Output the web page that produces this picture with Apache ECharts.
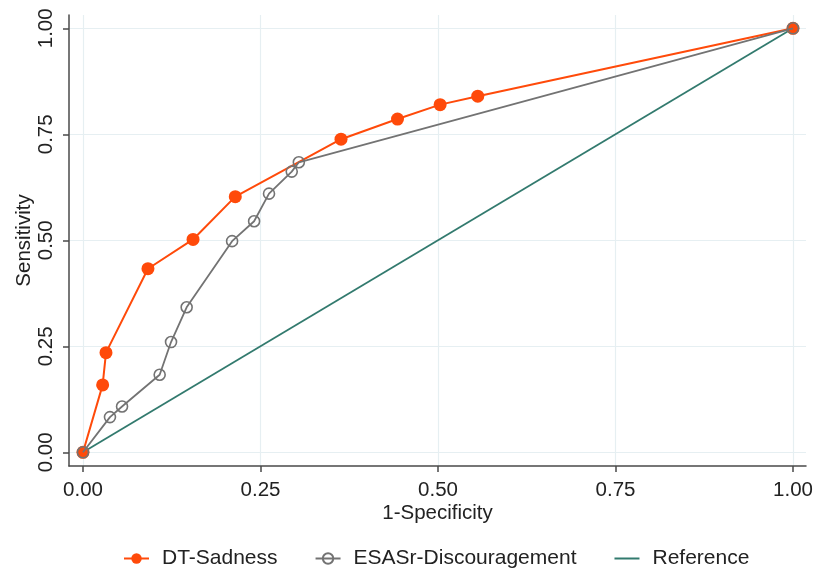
<!DOCTYPE html>
<html>
<head>
<meta charset="utf-8">
<script src="https://cdn.jsdelivr.net/npm/echarts@6/dist/echarts.min.js"></script>
<style>html,body{margin:0;padding:0;background:#fff}#c{width:827px;height:568px}</style>
</head>
<body>
<div id="c"></div>
<script>
// 1-Specificity / Sensitivity pairs
var sadnessX = [0, 0.0277, 0.0324, 0.0915, 0.155, 0.2145, 0.3634, 0.443, 0.503, 0.556, 1];
var sadnessY = [0, 0.159, 0.235, 0.433, 0.502, 0.603, 0.7385, 0.786, 0.820, 0.840, 1];
var discX = [0, 0.038, 0.055, 0.108, 0.124, 0.146, 0.210, 0.241, 0.262, 0.294, 0.304, 1];
var discY = [0, 0.083, 0.108, 0.183, 0.260, 0.342, 0.498, 0.545, 0.610, 0.662, 0.684, 1];
var refX = [0, 1];
var refY = [0, 1];
var tickValues = [0, 0.25, 0.5, 0.75, 1];
var seriesNames = ['DT-Sadness', 'ESASr-Discouragement', 'Reference'];

function pairs(xs, ys) { return xs.map(function (x, i) { return [x, ys[i]]; }); }

var FONT = '"Liberation Sans", Arial, sans-serif';
var ORANGE = '#ff4a0a', GRAY = '#737373', TEAL = '#327a6e';
var axisLine = { show: true, onZero: false, lineStyle: { color: '#4a4a4a', width: 1.5 } };
var grid = { show: true, lineStyle: { color: '#e6eff2', width: 1.2 } };

var chart = echarts.init(document.getElementById('c'), null, { renderer: 'canvas' });
chart.setOption({
  animation: false,
  backgroundColor: '#fff',
  grid: { left: 69, right: 21, top: 15, bottom: 102 },
  xAxis: {
    type: 'value', min: -0.0197, max: 1.0183,
    name: '1-Specificity', nameLocation: 'middle', nameGap: 37, nameMoveOverlap: false,
    nameTextStyle: { fontFamily: FONT, fontSize: 20.5, color: '#222' },
    axisLine: axisLine,
    axisTick: { show: true, customValues: tickValues, length: 6, lineStyle: { color: '#4a4a4a', width: 1.5 } },
    axisLabel: { customValues: tickValues, margin: 14, fontFamily: FONT, fontSize: 20.5, color: '#222',
      formatter: function (v) { return v.toFixed(2); } },
    splitLine: grid
  },
  yAxis: {
    type: 'value', min: -0.0323, max: 1.0314,
    name: 'Sensitivity', nameLocation: 'middle', nameGap: 34, nameRotate: 90, nameMoveOverlap: false,
    nameTextStyle: { fontFamily: FONT, fontSize: 20.5, color: '#222' },
    axisLine: axisLine,
    axisTick: { show: true, customValues: tickValues, length: 6, lineStyle: { color: '#4a4a4a', width: 1.5 } },
    axisLabel: { customValues: tickValues, rotate: 90, margin: 12, fontFamily: FONT, fontSize: 20.5, color: '#222',
      formatter: function (v) { return v.toFixed(2); } },
    splitLine: grid
  },
  legend: {
    data: seriesNames, left: 123, top: 548, padding: 0,
    itemWidth: 25, itemHeight: 13, itemGap: 37,
    textStyle: { fontFamily: FONT, fontSize: 21, color: '#222', padding: [0, 0, 0, 8] }
  },
  series: [
    { name: 'Reference', type: 'line', data: pairs(refX, refY), symbol: 'circle', showSymbol: false,
      lineStyle: { color: TEAL, width: 1.8 }, itemStyle: { color: TEAL, opacity: 0 }, z: 2 },
    { name: 'DT-Sadness', type: 'line', data: pairs(sadnessX, sadnessY), symbol: 'circle', symbolSize: 13,
      lineStyle: { color: ORANGE, width: 2 }, itemStyle: { color: ORANGE }, z: 3 },
    { name: 'ESASr-Discouragement', type: 'line', data: pairs(discX, discY), symbol: 'circle', symbolSize: 11,
      lineStyle: { color: GRAY, width: 1.8 },
      itemStyle: { color: 'rgba(255,255,255,0)', borderColor: GRAY, borderWidth: 1.6 }, z: 4 }
  ]
});
</script>
</body>
</html>
